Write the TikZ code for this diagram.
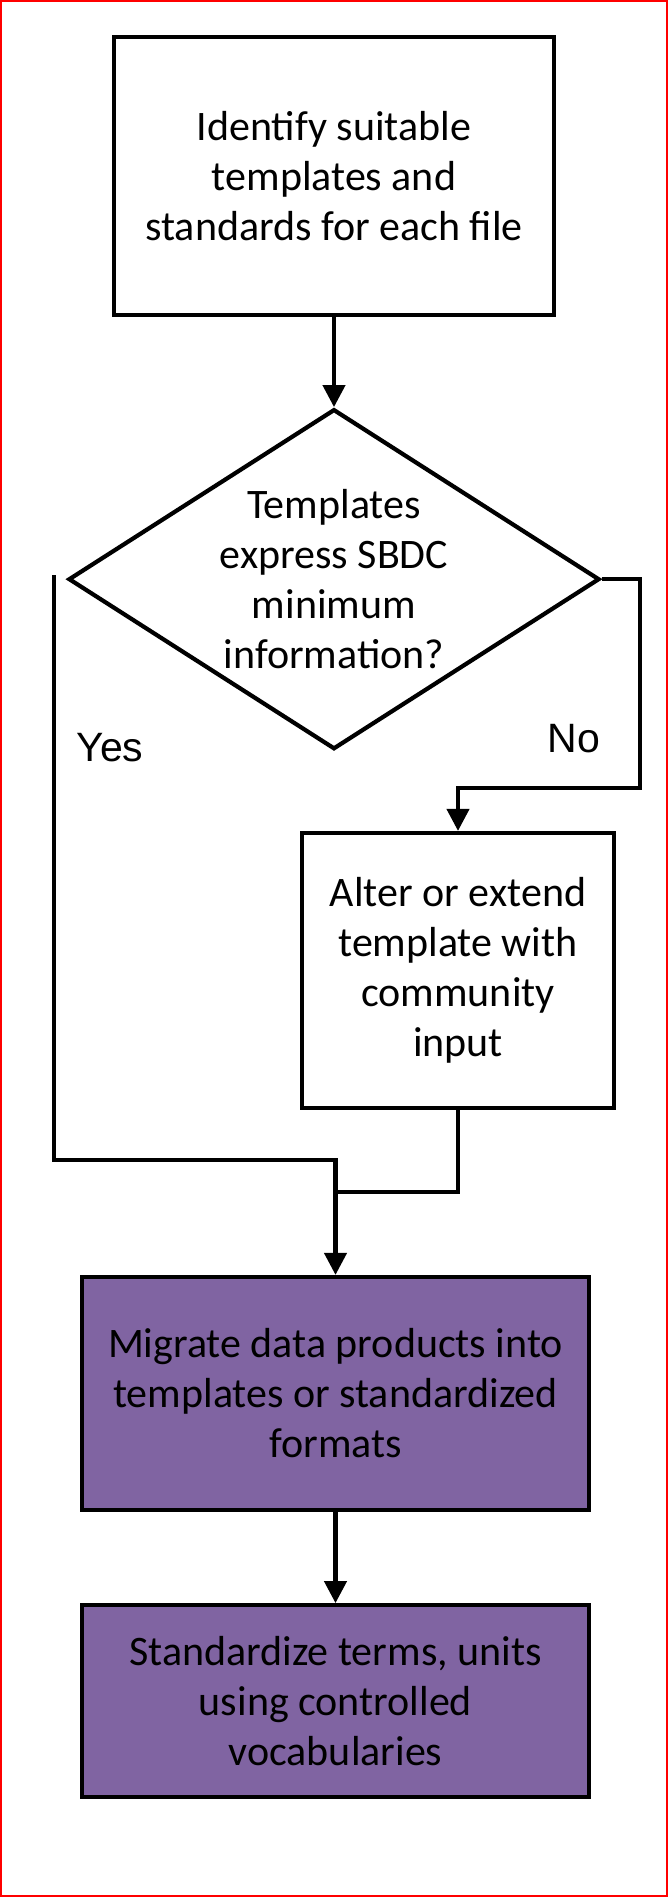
\documentclass[tikz,border=0pt]{standalone}
\usepackage{fontspec}
\setmainfont{Carlito}
\newfontfamily\labelfont{Liberation Sans}
\usetikzlibrary{shapes.geometric, arrows.meta, positioning, calc}
\definecolor{boxpurple}{HTML}{8064A2}

\begin{document}
\begin{tikzpicture}[
    x=1pt, y=-1pt,
    node distance=90pt,
    stepbox/.style={rectangle, draw, line width=4.2pt, align=center, inner sep=0pt, font=\fontsize{42}{50}\selectfont},
    decision/.style={diamond, draw, line width=4.2pt, align=center, aspect=1.55, inner sep=0pt, font=\fontsize{42}{50}\selectfont},
    action/.style={stepbox, fill=boxpurple},
    arrow/.style={line width=4.2pt, -{Triangle[length=22pt,width=22pt]}},
    line/.style={line width=4.2pt, line cap=rect},
    answer/.style={font=\labelfont\fontsize{41}{46}\selectfont}
]
    \useasboundingbox (0,0) rectangle (668,1897);
    \draw[red, line width=2pt] (1,1) rectangle (667,1896);

    \node[stepbox, minimum width=440pt, minimum height=278pt] (identify) at (334,176) {Identify suitable\\templates and\\standards for each file};
    \node[decision, minimum width=531pt, minimum height=340pt, below=90pt of identify] (decision) {Templates\\express SBDC\\minimum\\information?};
    \node[stepbox, minimum width=312pt, minimum height=275pt] (alter) at (458,970.5) {Alter or extend\\template with\\community\\input};
    \node[action, minimum width=507pt, minimum height=233pt] (migrate) at (335.5,1393.5) {Migrate data products into\\templates or standardized\\formats};
    \node[action, minimum width=507pt, minimum height=192pt, below=91pt of migrate] (standardize) {Standardize terms, units\\using controlled\\vocabularies};

    \node[answer] (yes) at (110,748) {Yes};
    \node[answer] (no) at (574,739) {No};

    \coordinate (yesstart) at (54,577);
    \coordinate (merge) at (335.5,1192);

    \draw[arrow] (identify) -- (decision);
    \draw[arrow] (decision.east) -- ++(38,0) |- ($(alter.north)+(0,-43)$) -- (alter.north);
    \draw[line] (yesstart) |- ($(merge)+(0,-32)$) -- (merge);
    \draw[line] (alter.south) |- (merge);
    \draw[arrow] (merge) -- (migrate.north);
    \draw[arrow] (migrate) -- (standardize);
\end{tikzpicture}
\end{document}
